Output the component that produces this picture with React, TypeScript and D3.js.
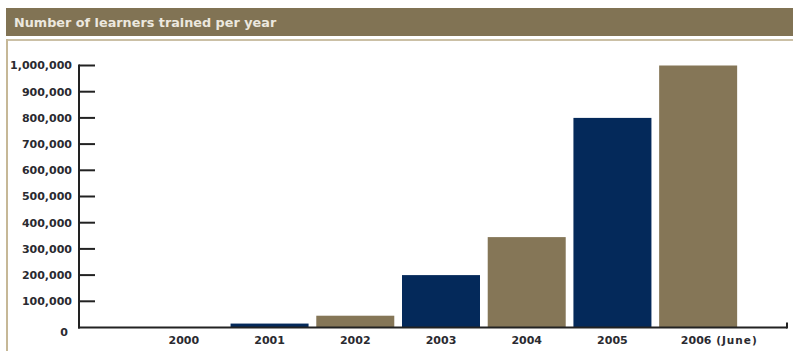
import React from "react";
import * as d3 from "d3";

const years = ["2000", "2001", "2002", "2003", "2004", "2005", "2006"];
const learners = [0, 15000, 45000, 200000, 345000, 800000, 1000000];
const yTicks = [0, 100000, 200000, 300000, 400000, 500000, 600000, 700000, 800000, 900000, 1000000];
const lastNote = "(June)";
const title = "Number of learners trained per year";

const W = 793;
const H = 351;
const TAN = "#857657";
const NAVY = "#04295a";
const INK = "#2a2a30";

export default function App() {
  const x = d3
    .scaleBand<string>()
    .domain(years)
    .range([141, 741])
    .paddingInner(0.09)
    .paddingOuter(0.045);
  const y = d3.scaleLinear().domain([0, 1000000]).range([327.5, 65.5]);
  const fmt = d3.format(",");
  const axisX0 = 79;
  const axisX1 = 787;

  return (
    <svg
      width={W}
      height={H}
      style={{ position: "fixed", left: 0, top: 0, background: "#fff" }}
      fontFamily="'DejaVu Sans', Verdana, sans-serif"
    >
      <rect x={0} y={0} width={W} height={H} fill="#ffffff" />
      {/* title bar */}
      <rect x={6} y={8} width={W - 6} height={28} fill="#817354" />
      <text x={14} y={27} fill="#ece8df" fontSize={12.8} fontWeight="bold">
        {title}
      </text>
      {/* frame */}
      <line x1={6} x2={W} y1={40} y2={40} stroke="#cbc0a6" strokeWidth={2} />
      <line x1={7} x2={7} y1={39} y2={H} stroke="#c6b897" strokeWidth={2} />

      {/* bars */}
      {years.map((yr, i) => (
        <rect
          key={yr}
          x={x(yr)}
          y={y(learners[i])}
          width={x.bandwidth()}
          height={y(0) - y(learners[i])}
          fill={i % 2 === 1 ? NAVY : TAN}
        />
      ))}

      {/* y axis */}
      <line x1={axisX0} x2={axisX0} y1={y(1000000) - 1} y2={y(0) + 1} stroke="#222" strokeWidth={2} />
      {yTicks.map((t) => (
        <g key={t}>
          {t > 0 && (
            <line x1={axisX0} x2={95} y1={y(t)} y2={y(t)} stroke="#222" strokeWidth={2} />
          )}
          <text
            x={t === 0 ? 68 : 72}
            y={t === 0 ? y(t) + 5 : y(t)}
            dy="0.36em"
            textAnchor="end"
            fontSize={11}
            fontWeight="bold"
            fill={INK}
          >
            {fmt(t)}
          </text>
        </g>
      ))}

      {/* x axis */}
      <line x1={axisX0 - 1} x2={axisX1} y1={y(0)} y2={y(0)} stroke="#222" strokeWidth={2} />
      <line x1={axisX1} x2={axisX1} y1={y(0) - 5} y2={y(0) + 1} stroke="#222" strokeWidth={2} />
      {years.map((yr, i) => {
        const cx = (x(yr) as number) + x.bandwidth() / 2;
        const isLast = i === years.length - 1;
        return (
          <g key={yr}>
            <text
              x={isLast ? cx - 2 : cx}
              y={340}
              dy="0.36em"
              textAnchor="middle"
              fontSize={11}
              fontWeight="bold"
              fill={INK}
            >
              {yr}
            </text>
            {isLast && (
              <text
                x={cx + 18}
                y={340}
                dy="0.36em"
                fontSize={10.5}
                fontWeight="bold"
                letterSpacing={1}
                fill={INK}
              >
                {lastNote}
              </text>
            )}
          </g>
        );
      })}
    </svg>
  );
}
